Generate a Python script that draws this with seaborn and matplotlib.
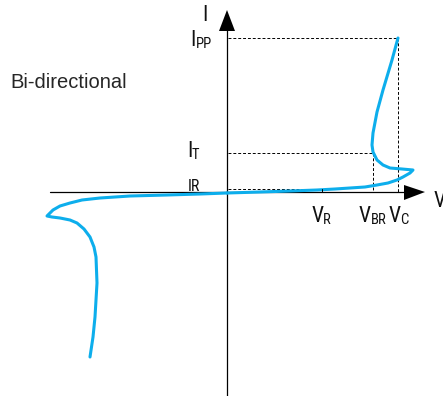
import matplotlib
matplotlib.use("Agg")
import matplotlib.pyplot as plt
import seaborn as sns
import pandas as pd
import numpy as np

sns.set_theme(style="white")
plt.rcParams['font.family'] = ['Open Sans', 'DejaVu Sans']

# Curve points (pixel-like diagram units, y downward)
right_x = [398, 392, 383, 377, 373, 372, 373, 377, 383, 390, 402, 413, 410, 403, 397, 388, 377, 365, 350, 335, 317, 290, 260, 227]
right_y = [38, 60, 90, 112, 133, 145, 152, 160, 165, 168, 169, 170, 173, 177, 180, 183, 185, 187, 188, 189, 190, 191, 192, 193]
left_x = [227, 200, 167, 130, 100, 82, 70, 60, 53, 47, 52, 60, 70, 77, 84, 90, 94, 96, 97, 96, 95, 93, 90]
left_y = [193, 194, 195, 196, 198, 200, 203, 206, 210, 216, 217, 218, 220, 223, 229, 237, 247, 257, 283, 300, 317, 337, 357]

levels_y = {"IPP": 38, "IT": 153, "IR": 189}
levels_x = {"VR": 322, "VBR": 373, "VC": 398}
axis_y = 192
axis_x = 227

fig = plt.figure(figsize=(4.43, 3.96), dpi=100)
ax = fig.add_axes([0, 0, 1, 1])
ax.set_xlim(0, 443)
ax.set_ylim(396, 0)

blue = "#0DAEEC"
df_r = pd.DataFrame({"x": right_x, "y": right_y})
df_l = pd.DataFrame({"x": left_x, "y": left_y})
sns.lineplot(data=df_r, x="x", y="y", sort=False, color=blue, lw=2.2, ax=ax, estimator=None)
sns.lineplot(data=df_l, x="x", y="y", sort=False, color=blue, lw=2.2, ax=ax, estimator=None)
ax.set_xlim(0, 443)
ax.set_ylim(396, 0)
ax.axis("off")

# Axes
ax.plot([50, 406], [axis_y, axis_y], color="black", lw=0.9, zorder=1)
ax.plot([axis_x, axis_x], [29, 396], color="black", lw=0.9, zorder=1)
ax.fill([404, 425, 404], [185, axis_y, 200], color="black", lw=0)
ax.fill([219, axis_x, 235], [31, 10, 31], color="black", lw=0)

# Dashed guide lines
dash = dict(color="black", lw=0.7, ls=(0, (3, 2)), zorder=1)
ax.plot([228, levels_x["VC"]], [levels_y["IPP"]] * 2, **dash)
ax.plot([levels_x["VC"]] * 2, [levels_y["IPP"], axis_y], **dash)
ax.plot([228, levels_x["VBR"]], [levels_y["IT"]] * 2, **dash)
ax.plot([levels_x["VBR"]] * 2, [levels_y["IT"], axis_y], **dash)
ax.plot([228, 320], [levels_y["IR"]] * 2, **dash)
ax.plot([levels_x["VR"]] * 2, [189, axis_y], color="black", lw=0.7)

# Labels (condensed face)
cf = dict(family=["Roboto Condensed", "Open Sans", "DejaVu Sans"], fontweight="normal",
          ha="left", va="baseline", color="#111111")
main = 15.5
sub = 10.5

ax.text(202, 21, "I", fontsize=main, **cf)
ax.text(434, 207, "V", fontsize=main, **cf)
ax.text(190, 46, "I", fontsize=main, **cf)
ax.text(196, 48, "PP", fontsize=sub, **cf)
ax.text(187, 157, "I", fontsize=main, **cf)
ax.text(192, 159, "T", fontsize=sub, **cf)
ax.text(188, 191, "IR", fontsize=11.5, **cf)
ax.text(312, 222, "V", fontsize=main, **cf)
ax.text(323, 224, "R", fontsize=sub, **cf)
ax.text(359, 222, "V", fontsize=main, **cf)
ax.text(371, 224, "BR", fontsize=sub, **cf)
ax.text(389, 222, "V", fontsize=main, **cf)
ax.text(400, 224, "C", fontsize=sub, **cf)

ax.text(10, 88, "Bi-directional", fontsize=14.5, ha="left", va="baseline",
        family=["Liberation Sans", "DejaVu Sans"])

fig.savefig("out.png", dpi=100)
